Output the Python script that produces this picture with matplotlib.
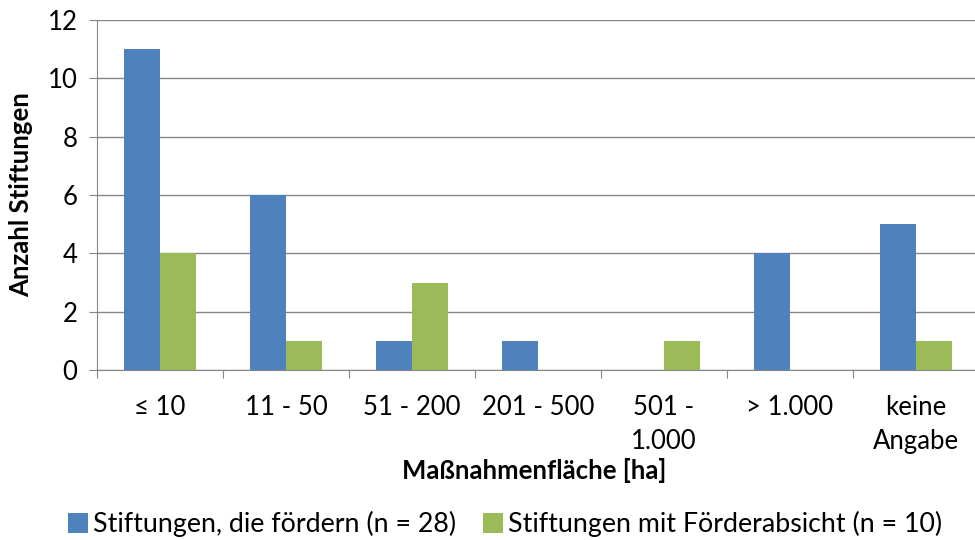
import matplotlib.pyplot as plt
import numpy as np

categories = ["≤ 10", "11 - 50", "51 - 200", "201 - 500", "501 -\n1.000", "> 1.000", "keine\nAngabe"]
foerdern = [11, 6, 1, 1, 0, 4, 5]
absicht = [4, 1, 3, 0, 1, 0, 1]
yticks = [0, 2, 4, 6, 8, 10, 12]

plt.rcParams['font.family'] = ['Lato', 'DejaVu Sans']
fs = 18.5

fig = plt.figure(figsize=(9.75, 5.4), dpi=100)
# axes runs a bit past the right edge of the figure, as in the original
ax = fig.add_axes([97/975, 1 - 370/540, 882/975, 350/540])

x = np.arange(len(categories))
w = 0.286
ax.bar(x - w/2, foerdern, w, color='#4F81BD', label='Stiftungen, die fördern (n = 28)', zorder=3)
ax.bar(x + w/2, absicht, w, color='#9BBB59', label='Stiftungen mit Förderabsicht (n = 10)', zorder=3)

ax.set_xlim(-0.5, len(categories) - 0.5)
ax.set_ylim(0, 12)
ax.set_yticks(yticks)
ax.yaxis.grid(True, color='#868686', linewidth=1, zorder=0)
ax.set_xticks(np.arange(len(categories) + 1) - 0.5)
ax.set_xticklabels([])
ax.set_xticks(x, minor=True)
ax.set_xticklabels(categories, minor=True, fontsize=fs, linespacing=1.45)
ax.tick_params(axis='x', which='minor', length=0, pad=18)
ax.tick_params(axis='x', which='major', length=6, color='#868686', direction='out')
ax.tick_params(axis='y', labelsize=fs, length=6, color='#868686', direction='out', pad=8)

for s in ['top', 'right']:
    ax.spines[s].set_visible(False)
for s in ['left', 'bottom']:
    ax.spines[s].set_color('#868686')

ax.set_ylabel('Anzahl Stiftungen', fontsize=fs, fontweight='bold')
ax.yaxis.set_label_coords(-64/882, 0.5)
ax.set_xlabel('Maßnahmenfläche [ha]', fontsize=fs, fontweight='bold', labelpad=2)
ax.xaxis.set_label_coords(0.5 * 875 / 882, -88/350)

fig.legend(loc='center', bbox_to_anchor=(505/975, 1 - 524/540), ncol=2, frameon=False,
           fontsize=19.3, handlelength=0.75, handleheight=0.75, handletextpad=0.2, columnspacing=1.0,
           borderaxespad=0)

fig.savefig('out.png', dpi=100)
